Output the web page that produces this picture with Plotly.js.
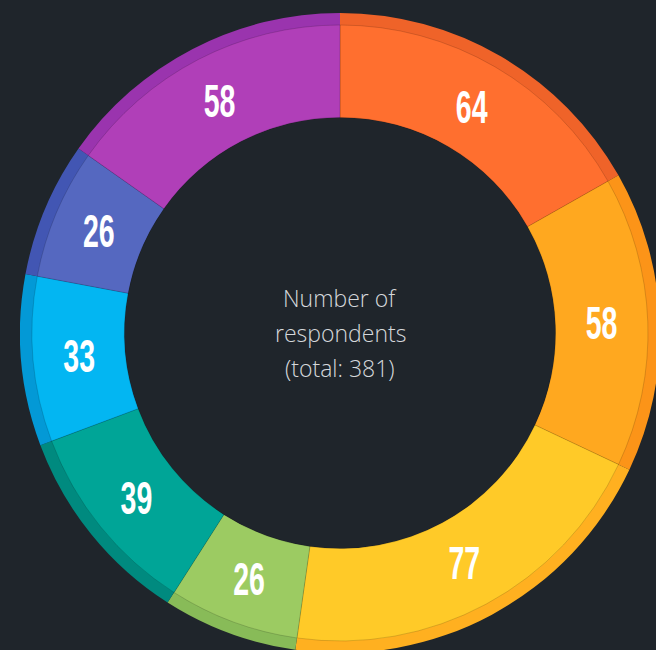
<!DOCTYPE html>
<html>
<head>
<meta charset="utf-8">
<script src="https://cdn.plot.ly/plotly-3.0.1.min.js"></script>
<style>
  html, body { margin: 0; padding: 0; width: 656px; height: 650px; overflow: hidden; background: #1F252B; }
  #chart { position: absolute; left: 20px; top: 13px; width: 640px; height: 640px; }
</style>
</head>
<body>
<div id="chart"></div>
<script>
const categories = ["A", "B", "C", "D", "E", "F", "G", "H"];
const counts = [64, 58, 77, 26, 39, 33, 26, 58];
const innerColors = ["#FF6F2F", "#FFA81F", "#FFCA28", "#9CCB62", "#00A597", "#03B6F2", "#5568C0", "#B03FB8"];
const outerColors = ["#EF6329", "#FC9418", "#FFB020", "#88BB58", "#008A7F", "#0399D6", "#4256B3", "#9A34AE"];
const centerLines = ["Number of", "respondents", "(total: 381)"];

const outer = {
  type: "pie",
  labels: categories,
  values: counts,
  sort: false,
  direction: "clockwise",
  rotation: 0,
  hole: 0.675,
  domain: { x: [0, 1], y: [0, 1] },
  marker: { colors: outerColors, line: { width: 0 } },
  textinfo: "none",
  hoverinfo: "none",
  showlegend: false
};

const inner = {
  type: "pie",
  labels: categories,
  values: counts,
  sort: false,
  direction: "clockwise",
  rotation: 0,
  hole: 0.70,
  domain: { x: [0.01875, 0.98125], y: [0.01875, 0.98125] },
  marker: { colors: innerColors, line: { width: 0.6, color: "rgba(0,0,0,0.25)" } },
  textinfo: "value",
  textposition: "inside",
  insidetextorientation: "horizontal",
  insidetextfont: { family: "'Liberation Sans', Arial, sans-serif", size: 46, color: "#FFFFFF", weight: "bold" },
  hoverinfo: "none",
  showlegend: false
};

const annotations = centerLines.map((t, i) => ({
  text: t,
  x: 0.5, y: 0.5, xref: "paper", yref: "paper",
  xanchor: "center", yanchor: "middle",
  yshift: (1 - i) * 35,
  showarrow: false,
  font: { family: "'Open Sans', sans-serif", size: 23, color: "#D5D8DB", weight: 300 }
}));

const layout = {
  width: 640, height: 640,
  margin: { l: 0, r: 0, t: 0, b: 0 },
  paper_bgcolor: "#1F252B",
  plot_bgcolor: "#1F252B",
  showlegend: false,
  annotations: annotations
};

Plotly.newPlot("chart", [outer, inner], layout, { displayModeBar: false, staticPlot: true }).then(gd => {
  // condense the slice labels horizontally around their anchor point
  gd.querySelectorAll("g.slicetext text").forEach(el => {
    const tr = el.getAttribute("transform") || "";
    const x = parseFloat(el.getAttribute("x") || 0);
    const y = parseFloat(el.getAttribute("y") || 0);
    el.setAttribute("transform", tr + ` translate(${x},${y}) scale(0.62,1) translate(${-x},${-y})`);
  });
});
</script>
</body>
</html>
